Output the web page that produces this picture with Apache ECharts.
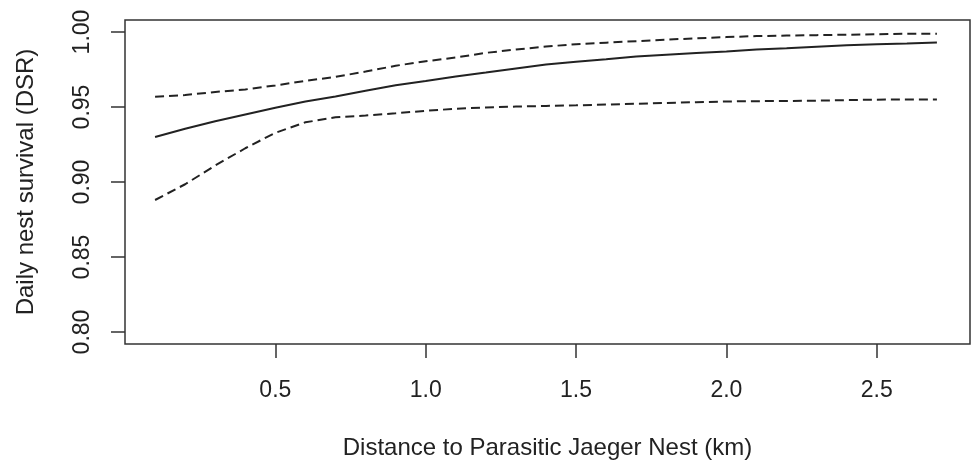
<!DOCTYPE html>
<html>
<head>
<meta charset="utf-8">
<script src="https://cdn.jsdelivr.net/npm/echarts@6/dist/echarts.min.js"></script>
<style>
  html, body { margin: 0; padding: 0; background: #fff; }
  #chart { width: 974px; height: 465px; }
</style>
</head>
<body>
<div id="chart"></div>
<script>
// Distance to Parasitic Jaeger nest (km)
var distanceKm = [0.1, 0.2, 0.3, 0.4, 0.5, 0.6, 0.7, 0.8, 0.9, 1.0,
                  1.1, 1.2, 1.3, 1.4, 1.5, 1.6, 1.7, 1.8, 1.9, 2.0,
                  2.1, 2.2, 2.3, 2.4, 2.5, 2.6, 2.7];
// Estimated daily nest survival (solid line)
var dsrMean  = [0.9300, 0.9355, 0.9405, 0.9450, 0.9495, 0.9537, 0.9570, 0.9608, 0.9645, 0.9673,
                0.9704, 0.9730, 0.9757, 0.9783, 0.9802, 0.9818, 0.9836, 0.9848, 0.9860, 0.9870,
                0.9883, 0.9892, 0.9902, 0.9912, 0.9918, 0.9923, 0.9930];
// Upper confidence limit (dashed)
var dsrUpper = [0.9568, 0.9580, 0.9600, 0.9617, 0.9644, 0.9674, 0.9701, 0.9736, 0.9775, 0.9805,
                0.9830, 0.9861, 0.9883, 0.9903, 0.9919, 0.9929, 0.9939, 0.9949, 0.9958, 0.9966,
                0.9973, 0.9976, 0.9979, 0.9982, 0.9985, 0.9988, 0.9989];
// Lower confidence limit (dashed)
var dsrLower = [0.8880, 0.8985, 0.9110, 0.9225, 0.9328, 0.9398, 0.9431, 0.9443, 0.9458, 0.9475,
                0.9488, 0.9497, 0.9503, 0.9507, 0.9511, 0.9516, 0.9522, 0.9527, 0.9532, 0.9537,
                0.9539, 0.9540, 0.9542, 0.9546, 0.9549, 0.9550, 0.9550];
// Tick labels
var xTicks = [0.5, 1.0, 1.5, 2.0, 2.5];
var yTicks = [0.80, 0.85, 0.90, 0.95, 1.00];

function pairs(ys) {
  return distanceKm.map(function (x, i) { return [x, ys[i]]; });
}

var FONT = "'Liberation Sans', Arial, sans-serif";
var INK = '#222';
var FRAME = '#333';

var chart = echarts.init(document.getElementById('chart'), null, { renderer: 'canvas' });
chart.setOption({
  animation: false,
  backgroundColor: '#fff',
  grid: {
    left: 125, right: 4, top: 20, bottom: 118,
    show: true, borderColor: FRAME, borderWidth: 1.5, backgroundColor: 'transparent'
  },
  xAxis: {
    type: 'value',
    min: 0, max: 2.81,
    name: 'Distance to Parasitic Jaeger Nest (km)',
    nameLocation: 'middle',
    nameGap: 92,
    nameTextStyle: { fontFamily: FONT, fontSize: 24, color: INK },
    axisLine: { show: false },
    splitLine: { show: false },
    axisTick: { show: true, inside: false, length: 14, customValues: xTicks,
                lineStyle: { color: FRAME, width: 1.5 } },
    axisLabel: { show: true, customValues: xTicks, margin: 35,
                 fontFamily: FONT, fontSize: 23, color: INK,
                 formatter: function (v) { return v.toFixed(1); } }
  },
  yAxis: {
    type: 'value',
    min: 0.792, max: 1.008,
    name: 'Daily nest survival (DSR)',
    nameLocation: 'middle',
    nameGap: 87,
    nameRotate: 90,
    nameTextStyle: { fontFamily: FONT, fontSize: 24, color: INK },
    axisLine: { show: false },
    splitLine: { show: false },
    axisTick: { show: true, inside: false, length: 14, customValues: yTicks,
                lineStyle: { color: FRAME, width: 1.5 } },
    axisLabel: { show: true, customValues: yTicks, margin: 31, rotate: 90,
                 fontFamily: FONT, fontSize: 23, color: INK,
                 formatter: function (v) { return v.toFixed(2); } }
  },
  series: [
    { name: 'DSR', type: 'line', data: pairs(dsrMean), showSymbol: false, smooth: false,
      lineStyle: { color: INK, width: 2, type: 'solid' } },
    { name: 'Upper', type: 'line', data: pairs(dsrUpper), showSymbol: false, smooth: false,
      lineStyle: { color: INK, width: 2, type: [9, 5] } },
    { name: 'Lower', type: 'line', data: pairs(dsrLower), showSymbol: false, smooth: false,
      lineStyle: { color: INK, width: 2, type: [9, 5] } }
  ]
});
</script>
</body>
</html>
